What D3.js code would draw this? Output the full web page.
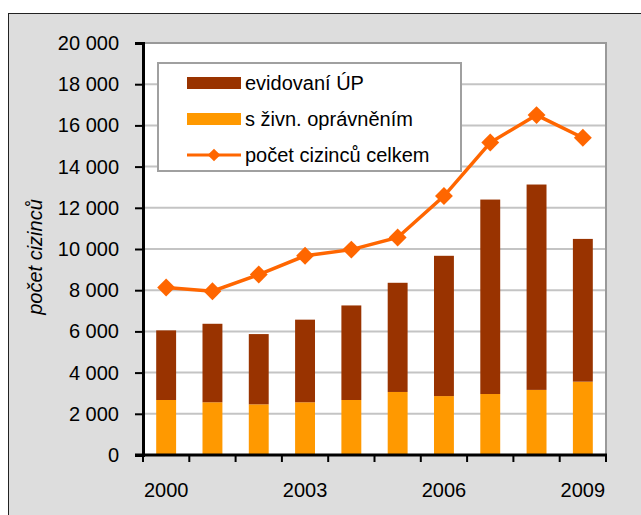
<!DOCTYPE html>
<html>
<head>
<meta charset="utf-8">
<script src="https://cdnjs.cloudflare.com/ajax/libs/d3/7.8.5/d3.min.js"></script>
<style>
    body { margin: 0; background: #fff; }
    svg { display: block; font-family: "Liberation Sans", Arial, sans-serif; }
</style>
</head>
<body>
<svg id="chart" width="641" height="515"></svg>
<script>
const YEARS = [2000, 2001, 2002, 2003, 2004, 2005, 2006, 2007, 2008, 2009];
const YEAR_LABELS = [2000, 2003, 2006, 2009];
const ZIVNOSTNICI = [2670, 2560, 2460, 2560, 2670, 3060, 2860, 2960, 3160, 3560];
const EVIDOVANI = [3380, 3810, 3410, 4010, 4590, 5300, 6810, 9440, 9970, 6930];
const CELKEM = [8130, 7950, 8760, 9670, 9970, 10560, 12570, 15170, 16500, 15400];
const Y_TICKS = [0, 2000, 4000, 6000, 8000, 10000, 12000, 14000, 16000, 18000, 20000];
const LEGEND = ["evidovaní ÚP", "s živn. oprávněním", "počet cizinců celkem"];

const COLOR_EVID = "#993300", COLOR_ZIVN = "#ff9900", COLOR_LINE = "#ff6600";

let svg = d3.select("#chart");

// plot area (pixels)
let plotLeft = 143, plotRight = 606, plotTop = 43, plotBottom = 455;

// outer frame
svg.append("rect")
    .attr("x", 8.5).attr("y", 13.5)
    .attr("width", 700).attr("height", 600)
    .attr("fill", "#dddddd")
    .attr("stroke", "#222").attr("stroke-width", 1);

svg.append("rect")
    .attr("x", plotLeft).attr("y", plotTop)
    .attr("width", plotRight - plotLeft).attr("height", plotBottom - plotTop)
    .attr("fill", "#fff");

let x = d3.scaleBand().domain(YEARS).range([plotLeft, plotRight]).padding(0);
let y = d3.scaleLinear().domain([0, 20000]).range([plotBottom, plotTop]);

let locale = d3.formatLocale({decimal: ",", thousands: " ", grouping: [3], currency: ["", " Kč"]});
let fmt = locale.format(",d");

// gridlines
svg.append("g")
    .selectAll("line")
    .data(Y_TICKS.filter(d => d > 0))
    .enter()
    .append("line")
    .attr("x1", plotLeft).attr("x2", plotRight)
    .attr("y1", d => y(d)).attr("y2", d => y(d))
    .attr("stroke", d => d == 20000 ? "#999" : "#c4c4c4")
    .attr("stroke-width", 2);

// right border of plot area
svg.append("line")
    .attr("x1", plotRight).attr("x2", plotRight)
    .attr("y1", plotTop - 1).attr("y2", plotBottom)
    .attr("stroke", "#999").attr("stroke-width", 2);

// stacked bars
let rows = YEARS.map((yr, i) => ({year: yr, zivn: ZIVNOSTNICI[i], evid: EVIDOVANI[i]}));
let stack = d3.stack().keys(["zivn", "evid"])(rows);
let colors = {zivn: COLOR_ZIVN, evid: COLOR_EVID};
let barW = x.bandwidth() * 0.43;

svg.append("g")
    .selectAll("g")
    .data(stack)
    .enter()
    .append("g")
    .attr("fill", d => colors[d.key])
    .selectAll("rect")
    .data(d => d)
    .enter()
    .append("rect")
    .attr("x", d => x(d.data.year) + (x.bandwidth() - barW) / 2)
    .attr("width", barW)
    .attr("y", d => y(d[1]))
    .attr("height", d => y(d[0]) - y(d[1]));

// y axis
let yAxis = svg.append("g")
    .attr("transform", `translate(${plotLeft},0)`)
    .call(d3.axisLeft(y).tickValues(Y_TICKS).tickFormat(fmt).tickSize(8).tickPadding(16));
yAxis.select(".domain").attr("stroke", "#000").attr("stroke-width", 3);
yAxis.selectAll(".tick line").attr("stroke", "#000").attr("stroke-width", 2);
yAxis.selectAll(".tick text")
    .attr("font-size", 20)
    .attr("fill", "#000")
    .attr("font-family", "Liberation Sans, Arial, sans-serif");

// x axis: ticks at band boundaries
let xAxis = svg.append("g").attr("transform", `translate(0,${plotBottom})`);
xAxis.append("line")
    .attr("x1", plotLeft - 8).attr("x2", plotRight + 1)
    .attr("stroke", "#000").attr("stroke-width", 3);
xAxis.selectAll("line.tk")
    .data(YEARS.concat(["end"]))
    .enter()
    .append("line")
    .attr("class", "tk")
    .attr("x1", d => d == "end" ? plotRight : x(d))
    .attr("x2", d => d == "end" ? plotRight : x(d))
    .attr("y1", 0).attr("y2", 7)
    .attr("stroke", "#000").attr("stroke-width", 2);
xAxis.selectAll("text")
    .data(YEAR_LABELS)
    .enter()
    .append("text")
    .attr("x", d => x(d) + x.bandwidth() / 2)
    .attr("y", 42)
    .attr("text-anchor", "middle")
    .attr("font-size", 20)
    .text(d => d);

// y axis title
svg.append("text")
    .attr("transform", "translate(42,257) rotate(-90)")
    .attr("text-anchor", "middle")
    .attr("font-size", 20)
    .attr("font-style", "italic")
    .text("počet cizinců");

// total line
let line = d3.line()
    .x((d, i) => x(YEARS[i]) + x.bandwidth() / 2)
    .y(d => y(d));

svg.append("path")
    .datum(CELKEM)
    .attr("d", line)
    .attr("fill", "none")
    .attr("stroke", COLOR_LINE)
    .attr("stroke-width", 3.5);

let diamond = d3.symbol().type(d3.symbolSquare);

svg.append("g")
    .selectAll("path")
    .data(CELKEM)
    .enter()
    .append("path")
    .attr("transform", (d, i) => `translate(${x(YEARS[i]) + x.bandwidth() / 2},${y(d)}) rotate(45)`)
    .attr("d", diamond.size(160))
    .attr("fill", COLOR_LINE);

// legend
let lg = svg.append("g");
lg.append("rect")
    .attr("x", 158).attr("y", 63)
    .attr("width", 303).attr("height", 108)
    .attr("fill", "#fff")
    .attr("stroke", "#a0a0a0").attr("stroke-width", 2);

let rowY = [83, 119, 155];
lg.append("rect").attr("x", 187).attr("y", rowY[0] - 6).attr("width", 54).attr("height", 12).attr("fill", COLOR_EVID);
lg.append("rect").attr("x", 187).attr("y", rowY[1] - 6).attr("width", 54).attr("height", 12).attr("fill", COLOR_ZIVN);
lg.append("line")
    .attr("x1", 187).attr("x2", 241)
    .attr("y1", rowY[2]).attr("y2", rowY[2])
    .attr("stroke", COLOR_LINE).attr("stroke-width", 3);
lg.append("path")
    .attr("transform", `translate(214,${rowY[2]}) rotate(45)`)
    .attr("d", d3.symbol().type(d3.symbolSquare).size(80))
    .attr("fill", COLOR_LINE);

lg.selectAll("text")
    .data(LEGEND)
    .enter()
    .append("text")
    .attr("x", 245)
    .attr("y", (d, i) => rowY[i])
    .attr("dy", "0.36em")
    .attr("font-size", 20)
    .text(d => d);
</script>
</body>
</html>
